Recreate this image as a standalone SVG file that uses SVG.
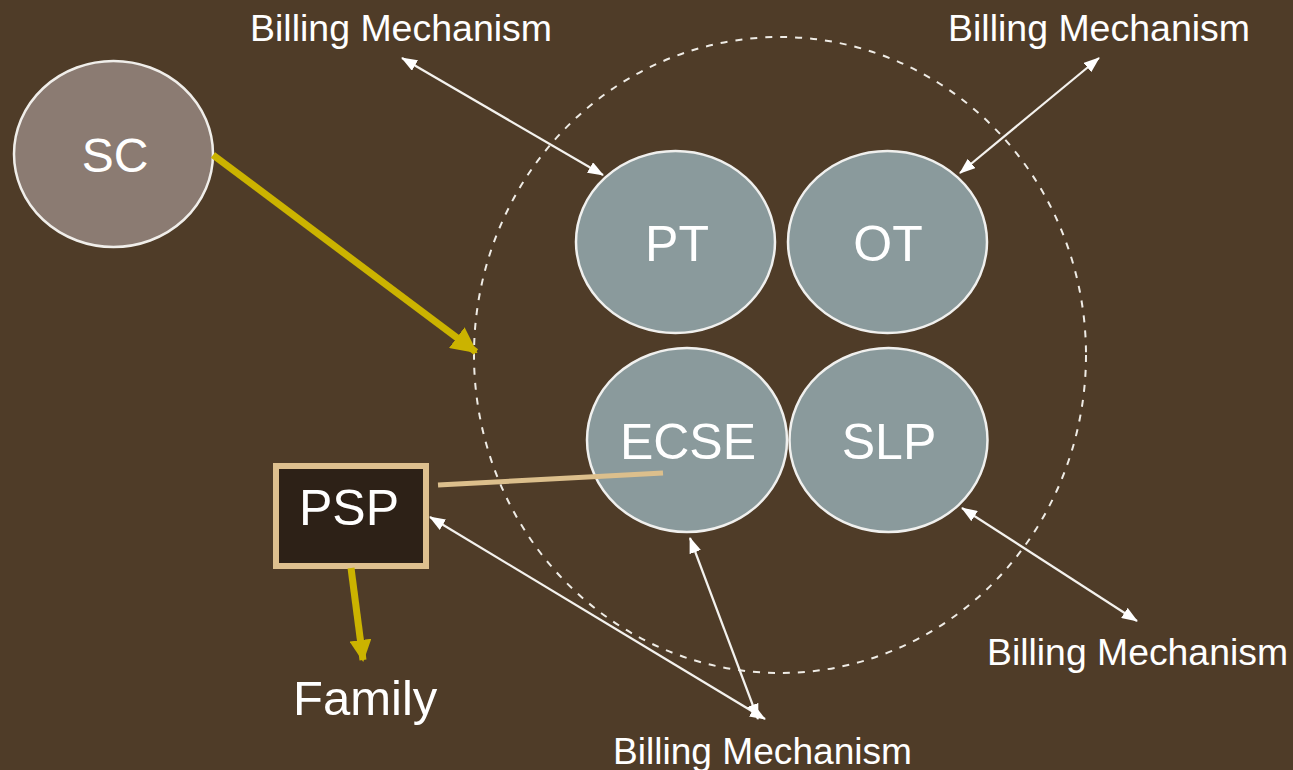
<svg xmlns="http://www.w3.org/2000/svg" width="1293" height="770" viewBox="0 0 1293 770">
<style>
.lbl{font-family:"Liberation Sans",Arial,sans-serif;fill:#ffffff;}
.node{fill:#8a9a9c;stroke:#f0f0ee;stroke-width:2.5;}
.bm{font-size:36px;}
.big{font-size:50px;text-anchor:middle;}
.wl{stroke:#f4f2ee;stroke-width:2.2;fill:none;marker-start:url(#wh);marker-end:url(#wh);}
.yl{stroke:#cbb300;stroke-width:7;fill:none;}
</style>
<defs>
<marker id="wh" viewBox="0 0 16 12" refX="15" refY="6" markerWidth="16" markerHeight="12" markerUnits="userSpaceOnUse" orient="auto-start-reverse">
<path d="M0,0 L16,6 L0,12 z" fill="#ffffff"/>
</marker>
<marker id="yh" viewBox="0 0 26 26" refX="24" refY="13" markerWidth="26" markerHeight="26" markerUnits="userSpaceOnUse" orient="auto">
<path d="M0,0 L26,13 L0,26 z" fill="#cbb300"/>
</marker>
<marker id="yh2" viewBox="0 0 22 22" refX="20" refY="11" markerWidth="22" markerHeight="22" markerUnits="userSpaceOnUse" orient="auto">
<path d="M0,0 L22,11 L0,22 z" fill="#cbb300"/>
</marker>
</defs>
<rect width="1293" height="770" fill="#4f3c28"/>
<g id="group-boundary">
<ellipse cx="780" cy="355" rx="306" ry="318" fill="none" stroke="#efece6" stroke-width="2" stroke-dasharray="7 8"/>
</g>
<g id="node-SC">
<ellipse cx="113.5" cy="154" rx="99.5" ry="93" fill="#8b7b72" stroke="#f0eeea" stroke-width="2.5"/>
<text class="lbl big" x="115" y="172" style="font-size:48px">SC</text>
</g>
<g id="node-PT">
<ellipse class="node" cx="675.5" cy="242" rx="99.5" ry="91"/>
<text class="lbl big" x="677" y="261">PT</text>
</g>
<g id="node-OT">
<ellipse class="node" cx="887.5" cy="242" rx="99.5" ry="91"/>
<text class="lbl big" x="888" y="261">OT</text>
</g>
<g id="node-ECSE">
<ellipse class="node" cx="687" cy="440" rx="100" ry="92"/>
<text class="lbl big" x="688" y="459">ECSE</text>
</g>
<g id="node-SLP">
<ellipse class="node" cx="888.5" cy="440" rx="99" ry="92"/>
<text class="lbl big" x="889" y="459">SLP</text>
</g>
<g id="node-PSP">
<rect x="276" y="466" width="150" height="100" fill="#2d2117" stroke="#dec08f" stroke-width="6"/>
<text class="lbl big" x="349" y="525">PSP</text>
</g>
<g id="node-Family">
<text class="lbl" x="293" y="715" style="font-size:49px">Family</text>
</g>
<g id="connectors">
<line class="wl" x1="402" y1="58" x2="603" y2="175"/>
<line class="wl" x1="1099" y1="58" x2="960" y2="173"/>
<line class="wl" x1="962" y1="508" x2="1137" y2="621"/>
<line class="wl" x1="430" y1="517" x2="765" y2="719"/>
<line class="wl" x1="690" y1="538" x2="758" y2="719"/>
<line class="yl" x1="213" y1="155" x2="476" y2="352" marker-end="url(#yh)"/>
<line class="yl" x1="351" y1="568" x2="363" y2="660" marker-end="url(#yh2)"/>
<line x1="438" y1="485" x2="663" y2="473" stroke="#dcbf8c" stroke-width="5"/>
</g>
<g id="labels">
<text class="lbl bm" x="250" y="41" textLength="302" lengthAdjust="spacingAndGlyphs">Billing Mechanism</text>
<text class="lbl bm" x="948" y="41" textLength="302" lengthAdjust="spacingAndGlyphs">Billing Mechanism</text>
<text class="lbl bm" x="987" y="665" textLength="301" lengthAdjust="spacingAndGlyphs">Billing Mechanism</text>
<text class="lbl bm" x="613" y="764" textLength="299" lengthAdjust="spacingAndGlyphs">Billing Mechanism</text>
</g>
</svg>
